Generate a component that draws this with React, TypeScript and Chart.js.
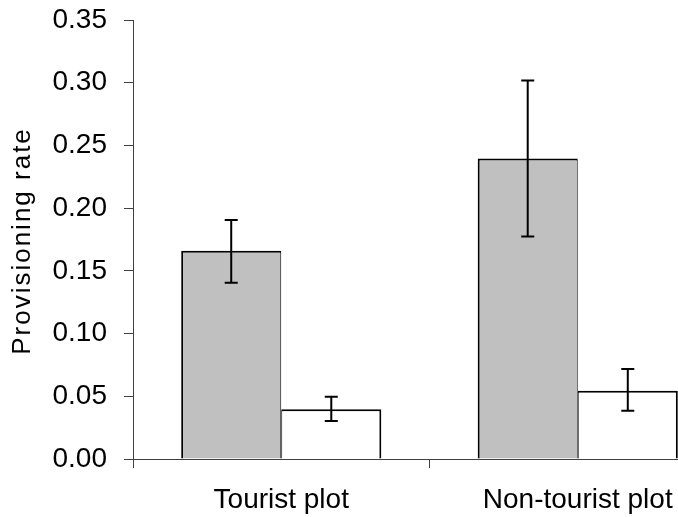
import React, { useEffect, useRef } from "react";
import { Chart, registerables } from "chart.js";

Chart.register(...registerables);

const categories = ["Tourist plot", "Non-tourist plot"];
const graySeries = [0.166, 0.2395];
const grayErrLow = [0.1405, 0.1773];
const grayErrHigh = [0.1905, 0.3017];
const whiteSeries = [0.0396, 0.0545];
const whiteErrLow = [0.0303, 0.0385];
const whiteErrHigh = [0.0497, 0.0718];
const yTitle = "Provisioning rate";

const FONT = "'Liberation Sans', Arial, sans-serif";
const AXIS_COLOR = "#404040";

const errorBarPlugin = {
  id: "errorBars",
  afterDatasetsDraw(chart: any) {
    const ctx = chart.ctx;
    const yScale = chart.scales.y;
    chart.data.datasets.forEach((ds: any, di: number) => {
      const meta = chart.getDatasetMeta(di);
      const lows = ds.errLow as number[];
      const highs = ds.errHigh as number[];
      meta.data.forEach((bar: any, i: number) => {
        const x = bar.x;
        const yl = yScale.getPixelForValue(lows[i]);
        const yh = yScale.getPixelForValue(highs[i]);
        ctx.save();
        ctx.strokeStyle = "#000";
        ctx.lineWidth = 2;
        ctx.beginPath();
        ctx.moveTo(x, yl);
        ctx.lineTo(x, yh);
        ctx.moveTo(x - 6.5, yl);
        ctx.lineTo(x + 6.5, yl);
        ctx.moveTo(x - 6.5, yh);
        ctx.lineTo(x + 6.5, yh);
        ctx.stroke();
        ctx.restore();
      });
    });
  },
};

const yTitlePlugin = {
  id: "yTitleSpaced",
  afterDraw(chart: any) {
    const ctx = chart.ctx;
    const area = chart.chartArea;
    ctx.save();
    ctx.translate(23, (area.top + area.bottom) / 2 + 1.5);
    ctx.rotate(-Math.PI / 2);
    ctx.font = `26px ${FONT}`;
    (ctx as any).letterSpacing = "2px";
    ctx.fillStyle = "#000";
    ctx.textAlign = "center";
    ctx.textBaseline = "middle";
    ctx.fillText(yTitle, 0, 0);
    ctx.restore();
  },
};

export default function App() {
  const canvasRef = useRef<HTMLCanvasElement | null>(null);

  useEffect(() => {
    const canvas = canvasRef.current;
    if (!canvas) return;
    const chart = new Chart(canvas, {
      type: "bar",
      data: {
        labels: categories,
        datasets: [
          {
            label: "Gray",
            data: graySeries,
            backgroundColor: "#C0C0C0",
            borderColor: "#000",
            borderWidth: { top: 2, left: 2, right: 1, bottom: 0 },
            errLow: grayErrLow,
            errHigh: grayErrHigh,
          } as any,
          {
            label: "White",
            data: whiteSeries,
            backgroundColor: "#FFFFFF",
            borderColor: "#000",
            borderWidth: { top: 2, left: 1, right: 2, bottom: 0 },
            errLow: whiteErrLow,
            errHigh: whiteErrHigh,
          } as any,
        ],
      },
      options: {
        responsive: false,
        animation: false,
        maintainAspectRatio: false,
        datasets: {
          bar: {
            categoryPercentage: 0.675,
            barPercentage: 1.0,
          },
        },
        layout: { padding: { top: 20, right: 10, bottom: 0, left: 0 } },
        plugins: {
          legend: { display: false },
          tooltip: { enabled: false },
          title: { display: false },
        },
        scales: {
          x: {
            type: "category",
            offset: true,
            grid: {
              offset: true,
              drawOnChartArea: false,
              drawTicks: true,
              tickLength: 9,
              color: AXIS_COLOR,
              lineWidth: 1,
            },
            border: { display: true, color: AXIS_COLOR, width: 1 },
            ticks: {
              color: "#000",
              font: { family: FONT, size: 28 },
              padding: 15,
              maxRotation: 0,
              minRotation: 0,
            },
            afterFit(scale: any) {
              scale.height = 58;
              scale.paddingLeft = 0;
              scale.paddingRight = 0;
            },
          },
          y: {
            min: 0,
            max: 0.35,
            grid: {
              drawOnChartArea: false,
              drawTicks: true,
              tickLength: 9,
              color: AXIS_COLOR,
              lineWidth: 1,
            },
            border: { display: true, color: AXIS_COLOR, width: 1 },
            ticks: {
              stepSize: 0.05,
              color: "#000",
              font: { family: FONT, size: 28 },
              padding: 17,
              callback: (v: any) => Number(v).toFixed(2),
            },
            afterFit(scale: any) {
              scale.width = 133;
              scale.paddingTop = 0;
              scale.paddingBottom = 0;
            },
          },
        },
      },
      plugins: [errorBarPlugin, yTitlePlugin],
    });
    return () => chart.destroy();
  }, []);

  return (
    <div
      style={{
        position: "fixed",
        left: 0,
        top: 0,
        width: 678,
        height: 517,
        overflow: "hidden",
        background: "#fff",
      }}
    >
      <canvas ref={canvasRef} width={736} height={517} style={{ display: "block" }} />
    </div>
  );
}
